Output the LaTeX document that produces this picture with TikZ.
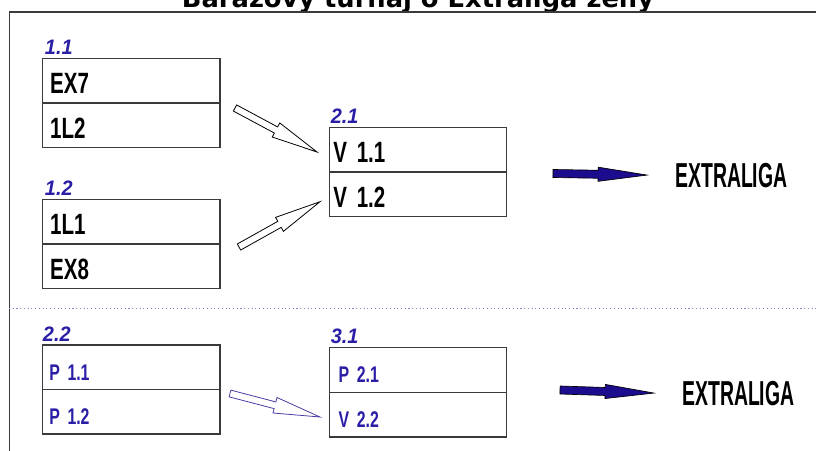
\documentclass[tikz,border=0pt]{standalone}
\usepackage{fontspec}
\setmainfont{Liberation Sans}
\newfontfamily\boxfont[FakeStretch=0.7]{Liberation Sans Bold}
\newfontfamily\ligafont[FakeStretch=0.56]{Liberation Sans Bold}
\newfontfamily\labfont[FakeStretch=0.95]{Liberation Sans Bold Italic}
\newfontfamily\titlefont{DejaVu Sans Bold}
\usetikzlibrary{positioning,calc}
\definecolor{boxgray}{HTML}{3A3A3A}
\definecolor{labblue}{HTML}{2A1EA6}
\definecolor{navy}{HTML}{1C0C8E}
\definecolor{dotblue}{HTML}{7C88B8}
\begin{document}
\begin{tikzpicture}[x=0.75pt,y=-0.75pt,
 row/.style={rectangle,draw=boxgray,line width=1.1pt,outer sep=0pt,inner ysep=0pt,inner xsep=#1,text width=133pt-2*#1,align=left,text height=26.4pt,text depth=7pt},
 row/.default=5.6pt,
 toptext/.style={font=\boxfont\fontsize{22}{26}\selectfont},
 bottext/.style={font=\boxfont\fontsize{17}{20}\selectfont,text=labblue},
 lab/.style={font=\labfont\fontsize{15.7}{19}\selectfont,text=labblue,inner sep=0pt},
 liga/.style={font=\ligafont\fontsize{26}{30}\selectfont,inner sep=0pt},
 block/.style n args={3}{to path={
   ($(\tikztostart)!#1!90:(\tikztotarget)$)
   -- ($(\tikztostart)!#3!(\tikztotarget)!#1!90:(\tikztotarget)$)
   -- ($(\tikztostart)!#3!(\tikztotarget)!#2!90:(\tikztotarget)$)
   -- (\tikztotarget)
   -- ($(\tikztostart)!#3!(\tikztotarget)!#2!-90:(\tikztotarget)$)
   -- ($(\tikztostart)!#3!(\tikztotarget)!#1!-90:(\tikztotarget)$)
   -- ($(\tikztostart)!#1!-90:(\tikztotarget)$) -- cycle}},
 hollow/.style={draw=black,fill=white,line width=0.6pt,line join=miter,block={2.6pt}{6pt}{0.5}},
 bluearrow/.style={draw=black,fill=navy,line width=0.5pt,line join=miter,block={3pt}{5.3pt}{0.48}}]
\useasboundingbox (0,0) rectangle (816,450);
% title and frame
\node[font=\titlefont\fontsize{19.3}{23}\selectfont,anchor=base,inner sep=0pt] (title) at (418,7.5) {Barážový turnaj o Extraliga ženy};
\draw[line width=1.3pt,boxgray] (9.5,452) |- (818,12.3);
\draw[dotted,dotblue,line width=0.8pt] (9,308.3) -- (816,308.3);
% upper part
\node[row,toptext,anchor=north west] (b11a) at (42.7,58.3) {EX7};
\node[row,toptext,below=0pt of b11a] (b11b) {1L2};
\node[lab,above right=2.5pt and 1.5pt of b11a.north west] (l11) {1.1};
\node[row,toptext,anchor=north west] (b12a) at (42.7,199.3) {1L1};
\node[row,toptext,below=0pt of b12a] (b12b) {EX8};
\node[lab,above right=2.5pt and 1.5pt of b12a.north west] (l12) {1.2};
\node[row=3pt,toptext,anchor=north west] (b21a) at (329.3,127.3) {V 1.1};
\node[row=3pt,toptext,below=0pt of b21a] (b21b) {V 1.2};
\node[lab,above right=2.5pt and 1pt of b21a.north west] (l21) {2.1};
\node[liga,anchor=base west] (x1) at (675,187) {EXTRALIGA};
\coordinate (a1s) at (235,108);
\coordinate (a1e) at (317,152);
\coordinate (a2s) at (239,247);
\coordinate (a2e) at (320,201.7);
\coordinate (f1) at (553,173.5);
\draw[hollow] (a1s) to (a1e);
\draw[hollow] (a2s) to (a2e);
\draw[bluearrow] (f1) to ([xshift=-21pt]x1.west);
% lower part
\node[row=5pt,bottext,anchor=north west] (b22a) at (42.7,345) {P 1.1};
\node[row=5pt,bottext,below=0pt of b22a] (b22b) {P 1.2};
\node[lab,above right=2.5pt and 0pt of b22a.north west] (l22) {2.2};
\node[row=7pt,bottext,anchor=north west] (b31a) at (329.3,347.7) {P 2.1};
\node[row=7pt,bottext,below=0pt of b31a] (b31b) {V 2.2};
\node[lab,above right=2.5pt and 1pt of b31a.north west] (l31) {3.1};
\node[liga,anchor=base west] (x2) at (682,405) {EXTRALIGA};
\coordinate (a3s) at (230,393.5);
\coordinate (a3e) at (320,417);
\coordinate (f2) at (560,390);
\draw[hollow,draw=navy!80] (a3s) to (a3e);
\draw[bluearrow] (f2) to ([xshift=-21pt]x2.west);
\end{tikzpicture}
\end{document}
